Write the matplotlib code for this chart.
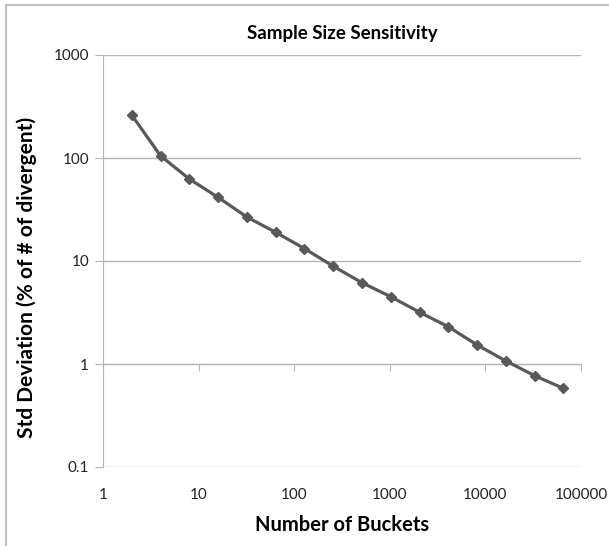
import numpy as np
import matplotlib.pyplot as plt
from matplotlib.lines import Line2D

plt.rcParams['font.family'] = ['Lato', 'DejaVu Sans']

buckets = [2, 4, 8, 16, 32, 64, 128, 256, 512, 1024, 2048, 4096, 8192, 16384, 32768, 65536]
std_dev = [261, 105, 62.5, 41.5, 26.7, 19.0, 13.2, 8.9, 6.15, 4.5, 3.18, 2.3, 1.53, 1.07, 0.77, 0.58]
x_ticks = [1, 10, 100, 1000, 10000, 100000]
y_ticks = [0.1, 1, 10, 100, 1000]

grid_col = '#b4b4b4'
line_col = '#595959'

fig = plt.figure(figsize=(6.09, 5.46), dpi=100)
ax = fig.add_axes([103/609, 1 - 467/546, (581-103)/609, (467-55)/546])

ax.plot(buckets, std_dev, color=line_col, lw=2.3, marker='D', ms=5.5,
        markerfacecolor=line_col, markeredgecolor=line_col, zorder=3)

ax.set_xscale('log')
ax.set_yscale('log')
ax.set_xlim(1, 100000)
ax.set_ylim(0.1, 1000)

ax.set_yticks(y_ticks)
ax.set_yticklabels(['0.1', '1', '10', '100', '1000'])
ax.yaxis.set_minor_locator(plt.NullLocator())
ax.set_xticks(x_ticks)
ax.xaxis.set_minor_locator(plt.NullLocator())
ax.grid(axis='y', color=grid_col, lw=1)
ax.set_axisbelow(True)

# horizontal axis crosses at y = 1, labels stay at the bottom
ax.spines['bottom'].set_position(('data', 1))
ax.spines['bottom'].set_color(grid_col)
ax.spines['left'].set_color(grid_col)
ax.spines['top'].set_visible(False)
ax.spines['right'].set_visible(False)
ax.tick_params(axis='x', which='both', direction='out', length=5, color=grid_col,
               labelbottom=False)
ax.tick_params(axis='y', which='both', direction='out', length=6, color=grid_col,
               labelsize=11, pad=4, labelcolor='#222222')

sec = ax.secondary_xaxis('bottom')
sec.set_xticks(x_ticks)
sec.set_xticklabels(['1', '10', '100', '1000', '10000', '100000'])
sec.xaxis.set_minor_locator(plt.NullLocator())
sec.spines['bottom'].set_visible(False)
sec.tick_params(length=0, pad=15, labelsize=11, labelcolor='#222222')

fig.text((103+581)/2/609, 1 - 33/546, 'Sample Size Sensitivity', fontsize=13.5,
         fontweight='bold', ha='center', va='center')
ax.set_ylabel('Std Deviation (% of # of divergent)', fontsize=15, fontweight='bold')
ax.yaxis.set_label_coords(-66/478, (467-277)/412)
fig.text((103+581)/2/609, 1 - 525/546, 'Number of Buckets', fontsize=14.5,
         fontweight='bold', ha='center', va='center')

# chart frame (top and left edges visible)
fig.add_artist(Line2D([6/609, 1], [1 - 5/546, 1 - 5/546], color='#c0c0c0', lw=1.5,
                      transform=fig.transFigure))
fig.add_artist(Line2D([6/609, 6/609], [0, 1 - 5/546], color='#c0c0c0', lw=1.5,
                      transform=fig.transFigure))

fig.savefig('out.png', dpi=100)
